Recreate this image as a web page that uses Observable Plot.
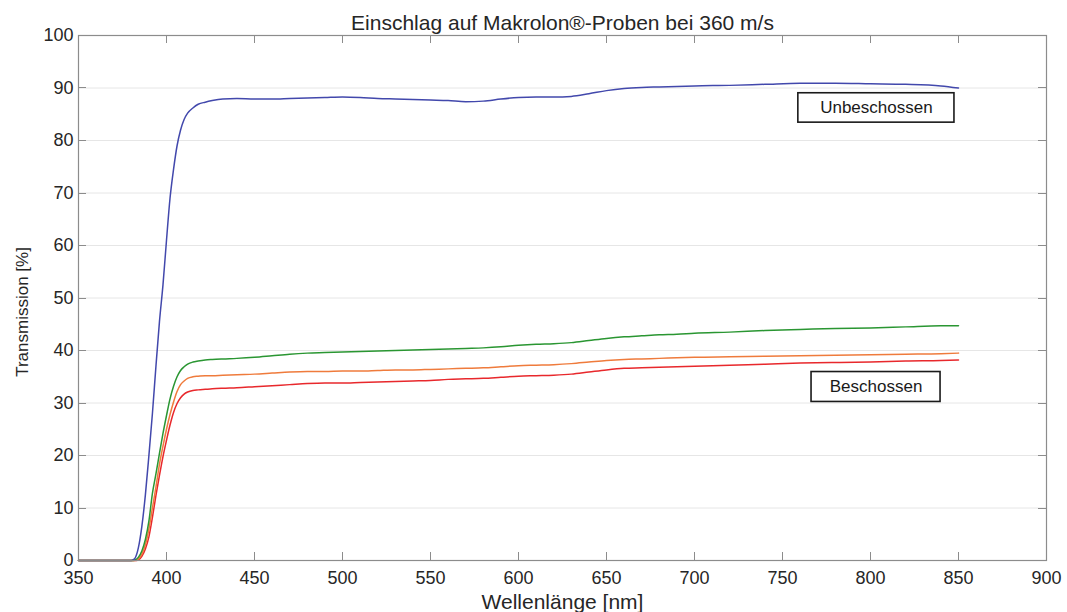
<!DOCTYPE html>
<html>
<head>
<meta charset="utf-8">
<script src="https://cdn.jsdelivr.net/npm/d3@7"></script>
<script src="https://cdn.jsdelivr.net/npm/@observablehq/plot@0.6"></script>
<style>
  html, body { margin: 0; padding: 0; background: #ffffff; }
  #chart svg { display: block; font-family: "Liberation Sans", Arial, sans-serif; }
</style>
</head>
<body>
<div id="chart"></div>
<script>
// ---- Data ----
const titleText = "Einschlag auf Makrolon®-Proben bei 360 m/s";
const xLabel = "Wellenlänge [nm]";
const yLabel = "Transmission [%]";

const xTicks = [350, 400, 450, 500, 550, 600, 650, 700, 750, 800, 850, 900];
const yTicks = [0, 10, 20, 30, 40, 50, 60, 70, 80, 90, 100];

const wavelength = [350, 380, 382, 384, 386, 388, 390, 392, 394, 396, 398, 400, 402, 404, 406, 408, 410, 412, 415, 418, 422, 426, 432, 440, 450, 460, 470, 480, 490, 500, 510, 520, 530, 540, 550, 560, 570, 580, 590, 600, 610, 620, 630, 640, 650, 660, 670, 680, 690, 700, 720, 740, 760, 780, 800, 820, 840, 850];

const unbeschossen = [0, 0, 0.4, 2.4, 6.5, 12.5, 20, 28, 37, 45.5, 52.5, 61, 69, 74.5, 79, 82, 84, 85.2, 86.2, 86.9, 87.3, 87.6, 87.9, 88.0, 87.9, 87.9, 88.0, 88.1, 88.2, 88.3, 88.2, 88.0, 87.9, 87.8, 87.7, 87.6, 87.4, 87.5, 87.9, 88.2, 88.3, 88.3, 88.4, 88.9, 89.5, 89.9, 90.1, 90.2, 90.3, 90.4, 90.5, 90.7, 90.9, 90.9, 90.8, 90.7, 90.4, 90.0];

const beschossenGruen = [0, 0, 0.1, 0.6, 1.8, 4, 7.5, 12.8, 16.5, 20.4, 24.2, 27.6, 30.8, 33.2, 35, 36.2, 36.9, 37.4, 37.8, 38.0, 38.2, 38.3, 38.4, 38.5, 38.7, 39.0, 39.3, 39.5, 39.6, 39.7, 39.8, 39.9, 40.0, 40.1, 40.2, 40.3, 40.4, 40.5, 40.7, 41.0, 41.2, 41.3, 41.5, 41.9, 42.3, 42.6, 42.8, 43.0, 43.1, 43.3, 43.5, 43.8, 44.0, 44.2, 44.3, 44.5, 44.7, 44.7];

const beschossenOrange = [0, 0, 0, 0.3, 1.2, 3.0, 6, 10, 14, 18.3, 21.8, 25, 27.8, 30.2, 32.2, 33.5, 34.2, 34.7, 35.0, 35.1, 35.2, 35.2, 35.3, 35.4, 35.5, 35.7, 35.9, 36.0, 36.0, 36.1, 36.1, 36.2, 36.3, 36.3, 36.4, 36.5, 36.6, 36.7, 36.9, 37.1, 37.2, 37.3, 37.5, 37.8, 38.1, 38.3, 38.4, 38.5, 38.6, 38.7, 38.8, 38.9, 39.0, 39.1, 39.2, 39.3, 39.4, 39.5];

const beschossenRot = [0, 0, 0, 0.1, 0.8, 2.2, 4.5, 8.2, 12.4, 16.2, 19.8, 22.9, 25.8, 28.2, 29.9, 31.0, 31.7, 32.1, 32.4, 32.5, 32.6, 32.7, 32.8, 32.9, 33.1, 33.3, 33.5, 33.7, 33.8, 33.8, 33.9, 34.0, 34.1, 34.2, 34.3, 34.5, 34.6, 34.7, 34.9, 35.1, 35.2, 35.3, 35.5, 35.9, 36.3, 36.6, 36.7, 36.8, 36.9, 37.0, 37.2, 37.4, 37.6, 37.7, 37.8, 38.0, 38.1, 38.2];

// annotation labels (data coordinates of the text boxes)
const labelTexts = ["Unbeschossen", "Beschossen"];
const labelX1 = [759, 766.5];
const labelX2 = [847.7, 839.8];
const labelY1 = [83.4, 30.2];
const labelY2 = [89.0, 35.9];

// ---- Chart ----
const frameColor = "#8c8c8c";
const textColor = "#262626";

const annotations = labelTexts.map((t, i) => ({
  text: t, x1: labelX1[i], x2: labelX2[i], y1: labelY1[i], y2: labelY2[i],
  cx: (labelX1[i] + labelX2[i]) / 2, cy: (labelY1[i] + labelY2[i]) / 2
}));

function frameTicks(index, scales, values, dimensions) {
  const {x, y} = scales;
  const {width, height, marginLeft, marginRight, marginTop, marginBottom} = dimensions;
  const left = marginLeft, right = width - marginRight;
  const top = marginTop, bottom = height - marginBottom;
  const len = 8;
  const g = d3.create("svg:g").attr("stroke", frameColor).attr("stroke-width", 1).attr("fill", "none");
  for (const v of xTicks) {
    const px = Math.round(x(v)) + 0.5;
    g.append("line").attr("x1", px).attr("x2", px).attr("y1", bottom).attr("y2", bottom - len);
    g.append("line").attr("x1", px).attr("x2", px).attr("y1", top).attr("y2", top + len);
  }
  for (const v of yTicks) {
    const py = Math.round(y(v)) + 0.5;
    g.append("line").attr("y1", py).attr("y2", py).attr("x1", left).attr("x2", left + len);
    g.append("line").attr("y1", py).attr("y2", py).attr("x1", right).attr("x2", right - len);
  }
  return g.node();
}

const lineOpts = {x: d => d, strokeWidth: 1.5, curve: "monotone-x"};

const chart = Plot.plot({
  width: 1067,
  height: 612,
  marginLeft: 78,
  marginRight: 21,
  marginTop: 35,
  marginBottom: 52,
  style: {background: "#ffffff", color: textColor, fontFamily: "'Liberation Sans', Arial, sans-serif"},
  x: {domain: [350, 900]},
  y: {domain: [0, 100]},
  marks: [
    Plot.gridY(yTicks, {stroke: "#e6e6e6", strokeOpacity: 1}),
    Plot.line(wavelength, {...lineOpts, y: beschossenRot, stroke: "#e8282c"}),
    Plot.line(wavelength, {...lineOpts, y: beschossenOrange, stroke: "#ef7b3c"}),
    Plot.line(wavelength, {...lineOpts, y: beschossenGruen, stroke: "#2a9632"}),
    Plot.line(wavelength, {...lineOpts, y: unbeschossen, stroke: "#4248ac"}),
    Plot.frame({stroke: frameColor, strokeWidth: 1.2}),
    frameTicks,
    Plot.axisX({ticks: xTicks, tickSize: 0, tickPadding: 11, fontSize: 18, label: null, tickFormat: d => String(d)}),
    Plot.axisY({ticks: yTicks, tickSize: 0, tickPadding: 5, fontSize: 18, label: null, tickFormat: d => String(d)}),
    Plot.rect(annotations, {x1: "x1", x2: "x2", y1: "y1", y2: "y2", fill: "#ffffff", stroke: "#1a1a1a", strokeWidth: 1.6}),
    Plot.text(annotations, {x: "cx", y: "cy", text: "text", fontSize: 17, fill: "#1a1a1a"}),
    Plot.text([titleText], {frameAnchor: "top", text: d => d, dy: -20, fontSize: 21, fill: textColor}),
    Plot.text([xLabel], {frameAnchor: "bottom", text: d => d, dy: 48, fontSize: 21, fill: textColor}),
    Plot.text([yLabel], {frameAnchor: "left", textAnchor: "middle", lineAnchor: "middle", text: d => d, dx: -56, dy: 14, rotate: -90, fontSize: 17, fill: textColor})
  ]
});
document.getElementById("chart").appendChild(chart);
</script>
</body>
</html>
